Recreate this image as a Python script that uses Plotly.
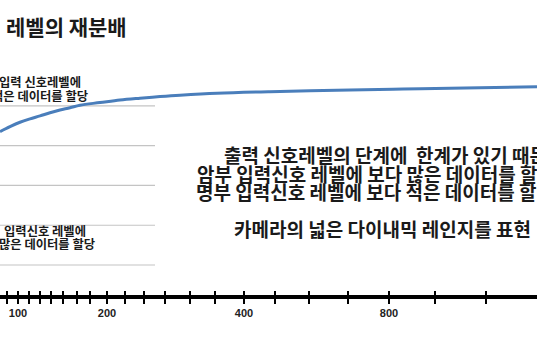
import plotly.graph_objects as go

# ---- data ----
curve_pos = [0, 10, 20, 30, 40, 50, 60, 70, 80, 100, 120, 140, 160, 180, 217, 270, 350, 403, 450, 537]
curve_level = [0.871, 0.896, 0.918, 0.935, 0.950, 0.966, 0.980, 0.991, 1.004, 1.017, 1.030, 1.039,
               1.047, 1.054, 1.064, 1.072, 1.080, 1.085, 1.089, 1.097]

tick_positions = [7, 18, 29, 40, 51, 63, 77, 90, 107, 125, 144, 165, 190, 215, 244, 275, 309, 348, 389, 435, 486]
tick_labels = ["", "100", "", "", "", "", "", "", "200", "", "", "", "", "", "400", "", "", "", "800", "", ""]

grid_levels = [0.2, 0.4, 0.6, 0.8, 1.0]
grid_end = 155

title_text = "레벨의 재분배"
upper_note = ["입력 신호레벨에", "적은 데이터를 할당"]
lower_note = ["입력신호 레벨에", "많은 데이터를 할당"]
main_lines = ["출력 신호레벨의 단계에\u00a0 한계가 있기 때문에",
              "암부 입력신호 레벨에 보다 많은 데이터를 할당",
              "명부 입력신호 레벨에 보다 적은 데이터를 할당",
              "카메라의 넓은 다이내믹 레인지를 표현"]

# ---- layout helpers ----
W, H = 537, 360
MB = 65
PH = H - MB


def px(x):
    return x / W


def py(y):
    return (PH - y) / PH


KFONT = "Noto Sans CJK KR"

fig = go.Figure()
fig.add_trace(go.Scatter(x=curve_pos, y=curve_level, mode="lines",
                         line=dict(color="#4a7ebb", width=3, shape="spline"),
                         hoverinfo="skip", showlegend=False))
fig.add_trace(go.Scatter(x=[], y=[], xaxis="x2", showlegend=False))

for lv in grid_levels:
    fig.add_shape(type="line", xref="x", yref="y", x0=0, x1=grid_end, y0=lv, y1=lv,
                  line=dict(color="#c4c4c4", width=1.2), layer="below")

annotations = []


def note(text, x, y, size):
    annotations.append(dict(text=text, xref="paper", yref="paper", x=px(x), y=py(y),
                            xanchor="left", yanchor="middle", showarrow=False,
                            borderpad=0, borderwidth=0,
                            font=dict(family=KFONT, size=size, color="#1a1a1a", weight="bold")))


note(title_text, 6, 26, 21)
note(upper_note[0], -1, 82, 12.3)
note(upper_note[1], -8, 96, 12.3)
note(lower_note[0], 4, 231, 12.3)
note(lower_note[1], -1, 244, 12.3)
note(main_lines[0], 224, 155, 19)
note(main_lines[1], 197, 173, 19)
note(main_lines[2], 196, 191, 19)
note(main_lines[3], 234, 228, 19)

fig.update_layout(
    width=W, height=H, autosize=False,
    margin=dict(l=0, r=0, t=0, b=MB, pad=0),
    paper_bgcolor="white", plot_bgcolor="white",
    showlegend=False,
    annotations=annotations,
    xaxis=dict(range=[0, W], showgrid=False, zeroline=False, showline=True,
               linewidth=4, linecolor="black", ticks="outside", ticklen=5, tickwidth=1.5,
               tickcolor="black", tickmode="array", tickvals=tick_positions, ticktext=tick_labels,
               tickfont=dict(family="Liberation Sans", size=11, color="#222", weight="bold"),
               fixedrange=True),
    xaxis2=dict(range=[0, W], overlaying="x", anchor="y", side="bottom", showgrid=False,
                zeroline=False, showline=False, ticks="inside", ticklen=4, tickwidth=1.5,
                tickcolor="black", tickmode="array", tickvals=tick_positions,
                showticklabels=False, fixedrange=True),
    yaxis=dict(range=[0.049, 1.533], visible=False, fixedrange=True),
)

fig.write_html("out.html", config={"displayModeBar": False},
               post_script="document.body.style.margin='0';document.body.style.overflow='hidden';")
